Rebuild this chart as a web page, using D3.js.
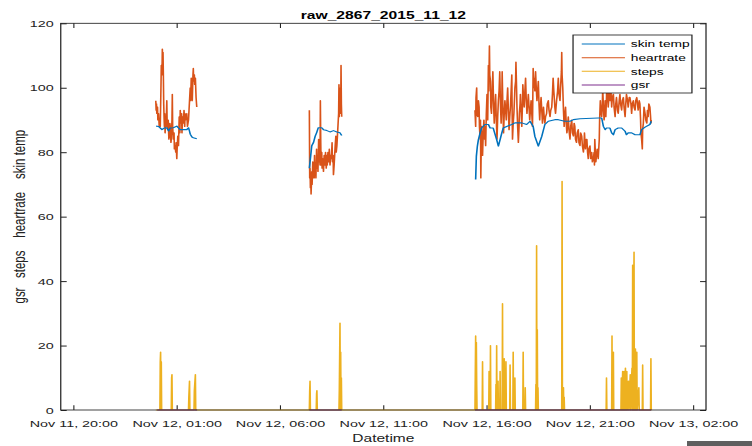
<!DOCTYPE html>
<html>
<head>
<meta charset="utf-8">
<script src="https://cdn.jsdelivr.net/npm/d3@7"></script>
<style>
  html, body { margin: 0; padding: 0; background: #fff; }
  svg { display: block; }
</style>
</head>
<body>
<div id="chart"></div>
<script>
// all readings are on Nov 12 2015, times as HH:MM
const skinTemp1 = [["00:01",88.1],["00:08",88],["00:18",87],["00:24",87.5],["00:32",87.6],["00:37",86.6],["00:42",87.5],["00:51",87.6],["01:01",88.1],["01:06",87.5],["01:11",87],["01:30",87],["01:35",87.6],["01:38",86.5],["01:40",85.6],["01:45",84.7],["01:49",84.5],["01:59",84.2]];
const skinTemp2 = [["07:26",75],["07:30",79],["07:33",82],["07:38",83],["07:43",85],["07:47",86],["07:52",87.6],["08:02",87.6],["08:07",87],["08:17",86.7],["08:26",86.3],["08:36",86.7],["08:46",86.3],["08:55",86],["09:00",85.2]];
const skinTemp3 = [["15:29",71.5],["15:31",78.7],["15:34",81.9],["15:37",83.9],["15:42",86],["15:46",87.5],["15:56",88.6],["16:06",88.6],["16:11",87.5],["16:20",87.5],["16:30",83.9],["16:35",81.9],["16:40",83.9],["16:45",86],["16:49",87.5],["16:59",88],["17:14",88.6],["17:23",89.1],["17:43",89.1],["17:57",88.6],["18:07",89.6],["18:16",88],["18:21",84.9],["18:31",81.9],["18:41",84.9],["18:50",88.6],["19:00",89.6],["19:19",90.1],["19:29",90.1],["19:48",89.6],["20:03",89.6],["20:13",90.1],["20:32",90.4],["21:25",90.6],["21:35",90.6],["21:40",88],["21:45",87],["21:49",87.5],["21:59",87.5],["22:04",86],["22:09",85.4],["22:14",87],["22:23",87.5],["22:33",87.5],["22:43",86.5],["22:47",85.4],["22:52",86],["23:02",86],["23:12",85.4],["23:26",85.4],["23:31",87],["23:41",87.8],["23:55",88.6],["23:59",89.6]];

const heartrate1 = [["00:00",96],["00:01",93],["00:02",95],["00:03",92],["00:05",94],["00:06",90],["00:08",92],["00:10",88],["00:12",90],["00:13",88],["00:15",100],["00:16",107],["00:18",104],["00:19",112],["00:20",109],["00:21",111],["00:22",104],["00:23",95],["00:24",91],["00:25",88],["00:26",92],["00:27",86],["00:29",90],["00:30",88],["00:32",96],["00:33",89],["00:35",87],["00:36",90],["00:38",84],["00:39",85],["00:41",89],["00:42",88],["00:44",83],["00:45",84],["00:47",90],["00:48",98],["00:49",88],["00:51",84],["00:53",86],["00:54",81],["00:56",82],["00:58",80],["00:59",83],["01:01",78],["01:02",81],["01:04",85],["01:06",82],["01:08",91],["01:10",86],["01:11",93],["01:13",89],["01:15",92],["01:16",86],["01:18",91],["01:20",89],["01:22",93],["01:24",88],["01:25",92],["01:27",90],["01:30",92],["01:32",88],["01:35",90],["01:37",94],["01:40",100],["01:41",96],["01:43",103],["01:44",98],["01:46",96],["01:48",104],["01:49",106],["01:50",102],["01:52",104],["01:53",101],["01:55",103],["01:57",97],["01:59",94]];
const heartrate2 = [["07:26",93],["07:27",72],["07:28",75],["07:29",69],["07:30",72],["07:31",67],["07:32",70],["07:33",74],["07:34",70],["07:36",77],["07:37",72],["07:38",75],["07:40",72],["07:41",79],["07:42",73],["07:44",76],["07:45",72],["07:47",81],["07:48",75],["07:50",78],["07:51",74],["07:53",84],["07:54",77],["07:55",80],["07:57",76],["07:58",96],["07:59",84],["08:00",76],["08:02",80],["08:03",75],["08:05",78],["08:07",74],["08:09",79],["08:11",76],["08:13",80],["08:15",75],["08:17",79],["08:18",76],["08:20",80],["08:22",77],["08:24",81],["08:26",76],["08:28",79],["08:30",78],["08:32",83],["08:33",77],["08:35",79],["08:36",73],["08:38",76],["08:39",78],["08:41",82],["08:43",85],["08:44",80],["08:46",82],["08:48",86],["08:50",90],["08:51",92],["08:52",101],["08:53",91],["08:54",100],["08:55",95],["08:56",99],["08:57",92],["08:58",107],["08:59",95],["09:00",91]];
const heartrate3 = [["15:27",93],["15:29",88],["15:30",97],["15:32",100],["15:33",92],["15:35",91],["15:37",96],["15:39",94],["15:40",88],["15:42",84],["15:43",90],["15:44",72],["15:45",80],["15:46",88],["15:48",82],["15:49",79],["15:51",86],["15:53",90],["15:55",84],["15:56",88],["15:58",82],["16:00",92],["16:02",98],["16:04",90],["16:06",107],["16:07",99],["16:09",113],["16:10",104],["16:12",102],["16:13",94],["16:15",92],["16:17",99],["16:19",105],["16:21",95],["16:23",89],["16:25",94],["16:27",98],["16:29",90],["16:31",84],["16:33",91],["16:35",96],["16:37",99],["16:39",105],["16:41",95],["16:43",89],["16:45",97],["16:46",105],["16:48",94],["16:50",86],["16:52",92],["16:54",96],["16:56",93],["16:58",90],["17:00",96],["17:02",100],["17:04",93],["17:06",87],["17:08",91],["17:10",94],["17:12",99],["17:14",104],["17:15",92],["17:16",84],["17:18",89],["17:20",92],["17:22",97],["17:23",100],["17:25",102],["17:26",108],["17:28",99],["17:29",94],["17:31",88],["17:33",83],["17:35",88],["17:36",92],["17:38",95],["17:39",98],["17:41",93],["17:43",88],["17:45",95],["17:46",101],["17:48",97],["17:50",94],["17:52",99],["17:54",103],["17:56",96],["17:58",92],["18:00",95],["18:02",98],["18:04",94],["18:06",90],["18:08",93],["18:10",96],["18:12",92],["18:14",88],["18:15",97],["18:16",106],["18:18",100],["18:19",103],["18:21",99],["18:23",105],["18:25",100],["18:27",96],["18:29",99],["18:31",102],["18:33",95],["18:35",90],["18:37",94],["18:39",97],["18:41",93],["18:43",89],["18:45",92],["18:46",94],["18:48",91],["18:50",89],["18:52",91],["18:55",92],["18:57",95],["19:00",96],["19:02",93],["19:05",91],["19:07",93],["19:10",94],["19:12",98],["19:14",103],["19:16",99],["19:19",94],["19:21",92],["19:24",96],["19:27",99],["19:29",103],["19:31",98],["19:34",96],["19:36",101],["19:38",105],["19:39",111],["19:40",104],["19:42",100],["19:44",93],["19:46",88],["19:48",92],["19:50",94],["19:52",89],["19:54",86],["19:56",88],["19:58",91],["20:00",87],["20:03",84],["20:05",88],["20:08",90],["20:10",86],["20:13",85],["20:15",89],["20:17",88],["20:19",84],["20:22",83],["20:24",86],["20:27",87],["20:29",83],["20:32",82],["20:34",86],["20:37",85],["20:39",82],["20:42",80],["20:44",83],["20:45",86],["20:47",82],["20:48",81],["20:50",84],["20:52",84],["20:54",80],["20:56",78],["20:58",81],["21:01",82],["21:03",78],["21:06",80],["21:08",77],["21:11",78],["21:13",80],["21:14",76],["21:15",84],["21:17",79],["21:18",77],["21:20",79],["21:22",81],["21:24",79],["21:25",78],["21:27",82],["21:28",84],["21:29",90],["21:31",96],["21:33",93],["21:35",91],["21:37",95],["21:38",100],["21:40",94],["21:42",90],["21:44",93],["21:45",96],["21:47",91],["21:49",97],["21:50",102],["21:52",98],["21:54",94],["21:56",97],["21:57",100],["22:00",96],["22:02",99],["22:04",94],["22:06",97],["22:09",98],["22:11",94],["22:14",91],["22:16",95],["22:18",97],["22:21",93],["22:23",92],["22:26",96],["22:28",98],["22:30",95],["22:33",93],["22:35",96],["22:38",97],["22:40",94],["22:43",91],["22:45",95],["22:47",98],["22:50",96],["22:52",94],["22:55",97],["22:57",97],["23:00",95],["23:02",92],["23:04",95],["23:07",96],["23:09",94],["23:12",93],["23:14",96],["23:17",97],["23:19",95],["23:21",93],["23:24",96],["23:26",95],["23:28",90],["23:29",86],["23:31",84],["23:33",81],["23:34",87],["23:36",89],["23:38",94],["23:41",92],["23:43",90],["23:46",89],["23:48",93],["23:50",91],["23:52",95],["23:55",94],["23:57",91],["23:58",89],["23:59",90]];

const steps = [["00:00",0],["00:12",0],["00:13",15],["00:14",18],["00:15",0],["00:16",15],["00:17",0],
  ["00:45",0],["00:46",10],["00:47",11],["00:48",0],
  ["01:35",0],["01:36",4],["01:38",9],["01:39",0],
  ["01:51",0],["01:52",6],["01:55",11],["01:56",0],
  ["07:26",0],["07:27",6],["07:28",9],["07:29",0],
  ["07:46",0],["07:47",5],["07:48",6],["07:49",0],
  ["08:52",0],["08:53",6],["08:55",27],["08:56",0],["08:57",18],["08:58",0],["08:59",10],["09:00",0],
  ["15:27",0],["15:28",12],["15:29",23],["15:30",0],["15:31",21],["15:32",8],["15:33",0],
  ["15:48",0],["15:49",15],["15:50",0],
  ["16:07",0],["16:08",12],["16:09",0],["16:11",0],["16:12",20],["16:13",0],
  ["16:27",0],["16:28",8],["16:29",0],["16:30",20],["16:31",0],
  ["16:33",0],["16:34",9],["16:35",0],["16:39",0],["16:40",12],["16:41",0],
  ["16:46",0],["16:47",33],["16:48",0],["16:51",0],["16:52",16],["16:53",0],
  ["16:56",0],["16:57",15],["16:58",0],
  ["17:08",0],["17:09",14],["17:10",0],
  ["17:17",0],["17:18",18],["17:19",0],["17:22",0],["17:23",10],["17:24",0],
  ["17:46",0],["17:47",18],["17:48",0],["17:52",0],["17:53",7],["17:54",0],
  ["18:23",0],["18:24",8],["18:25",0],["18:26",51],["18:27",0],["18:28",25],["18:29",0],["18:30",7],["18:31",0],
  ["19:39",0],["19:40",71],["19:41",0],["19:44",7],["19:45",0],["19:46",4],["19:47",0],
  ["21:48",0],["21:49",10],["21:50",0],
  ["22:04",0],["22:05",23],["22:06",0],["22:09",18],["22:10",0],
  ["22:31",0],["22:32",10],["22:33",0],["22:36",12],["22:37",0],["22:40",12],["22:41",0],["22:44",13],["22:45",0],
  ["22:48",12],["22:49",0],["22:53",9],["22:54",0],["22:58",11],["22:59",0],["23:03",13],["23:04",0],
  ["23:05",45],["23:06",0],["23:09",49],["23:10",0],["23:13",19],["23:14",0],["23:17",18],["23:18",0],["23:23",7],["23:24",0],
  ["23:33",0],["23:34",14],["23:35",0],
  ["23:57",0],["23:58",16],["23:59",0]];

const gsr1 = [["00:04",0],["02:00",0]];
const gsr2 = [["07:26",0],["09:00",0]];
const gsr3 = [["15:27",0],["23:59",0]];

const xTickDates = ["2015-11-11 20:00","2015-11-12 01:00","2015-11-12 06:00","2015-11-12 11:00","2015-11-12 16:00","2015-11-12 21:00","2015-11-13 02:00"];
const yTickValues = [0, 20, 40, 60, 80, 100, 120];
const seriesNames = ["skin temp", "heartrate", "steps", "gsr"];
const seriesColors = ["#0072bd", "#d95319", "#edb120", "#7e2f8e"];

// the reference picture is stretched sideways, so draw narrow and let the viewBox stretch it
const SX = 1.45;
const W = 752 / SX, H = 446;
const plotL = 41.9, plotR = 486.9, plotT = 23.3, plotB = 410;
const font = "'Liberation Sans', Arial, sans-serif";
const ink = "#222";

const svg = d3.select("#chart").append("svg")
  .attr("width", 752)
  .attr("height", 446)
  .attr("viewBox", `0 0 ${W} ${H}`)
  .attr("preserveAspectRatio", "none");

svg.append("rect").attr("width", W).attr("height", H).attr("fill", "#fff");

const parse = d3.timeParse("%Y-%m-%d %H:%M");
const t = s => parse("2015-11-12 " + s);

const x = d3.scaleTime()
  .domain([parse("2015-11-11 19:24"), parse("2015-11-13 02:38")])
  .range([plotL, plotR]);
const y = d3.scaleLinear().domain([0, 120]).range([plotB, plotT]);

const xTicks = xTickDates.map(parse);
const fmt = d3.timeFormat("%b %d, %H:%M");

// axes, ticks pointing inward
const gx = svg.append("g")
  .attr("transform", `translate(0,${plotB})`)
  .call(d3.axisBottom(x).tickValues(xTicks).tickFormat(fmt).tickSizeInner(-4.7).tickSizeOuter(0).tickPadding(9.8));
const gy = svg.append("g")
  .attr("transform", `translate(${plotL},0)`)
  .call(d3.axisLeft(y).tickValues(yTickValues).tickSizeInner(-4.1).tickSizeOuter(0).tickPadding(4.8));
const gxTop = svg.append("g")
  .attr("transform", `translate(0,${plotT})`)
  .call(d3.axisTop(x).tickValues(xTicks).tickFormat("").tickSizeInner(-4.7).tickSizeOuter(0));
const gyRight = svg.append("g")
  .attr("transform", `translate(${plotR},0)`)
  .call(d3.axisRight(y).tickValues(yTickValues).tickFormat("").tickSizeInner(-4.1).tickSizeOuter(0));

[gx, gy, gxTop, gyRight].forEach(g => {
  g.select(".domain").remove();
  g.selectAll("line").attr("stroke", ink);
  g.selectAll("text").attr("fill", ink).style("font-family", font).style("font-size", "9.9px");
});
gx.selectAll("line").attr("stroke-width", 0.75);
gxTop.selectAll("line").attr("stroke-width", 0.75);

// data lines
const line = d3.line().x(d => x(t(d[0]))).y(d => y(d[1]));
const plot = svg.append("g");

function draw(data, color) {
  plot.append("path")
    .datum(data)
    .attr("d", line)
    .attr("fill", "none")
    .attr("stroke", color)
    .attr("stroke-width", 1.1)
    .attr("stroke-linejoin", "round");
}

[heartrate1, heartrate2, heartrate3].forEach(d => draw(d, seriesColors[1]));
[skinTemp1, skinTemp2, skinTemp3].forEach(d => draw(d, seriesColors[0]));
draw(steps, seriesColors[2]);
[gsr1, gsr2, gsr3].forEach(d => draw(d, seriesColors[3]));

// box
svg.append("rect")
  .attr("x", plotL).attr("y", plotT)
  .attr("width", plotR - plotL).attr("height", plotB - plotT)
  .attr("fill", "none").attr("stroke", ink).attr("stroke-width", 0.85);

// title and labels
svg.append("text")
  .attr("x", (plotL + plotR) / 2).attr("y", 19.3)
  .attr("text-anchor", "middle")
  .attr("fill", "#000")
  .style("font-family", font).style("font-size", "10.8px").style("font-weight", "bold")
  .text("raw_2867_2015_11_12");

svg.append("text")
  .attr("x", (plotL + plotR) / 2).attr("y", 442)
  .attr("text-anchor", "middle")
  .attr("fill", ink)
  .style("font-family", font).style("font-size", "10.7px")
  .text("Datetime");

svg.append("text")
  .attr("transform", `translate(17.2,${(plotT + plotB) / 2}) rotate(-90)`)
  .attr("text-anchor", "middle")
  .attr("xml:space", "preserve")
  .style("white-space", "pre")
  .attr("fill", ink)
  .style("font-family", font).style("font-size", "11.5px")
  .text("gsr   steps    heartrate    skin temp");

// legend
const lg = svg.append("g");
lg.append("rect")
  .attr("x", 395.2).attr("y", 35).attr("width", 82).attr("height", 58)
  .attr("fill", "#fff").attr("stroke", ink).attr("stroke-width", 0.85);
const rowY = [44, 57.7, 71.2, 85];
seriesNames.forEach((name, i) => {
  lg.append("line")
    .attr("x1", 401.2).attr("x2", 431)
    .attr("y1", rowY[i]).attr("y2", rowY[i])
    .attr("stroke", seriesColors[i]).attr("stroke-width", 1);
  lg.append("text")
    .attr("x", 435).attr("y", rowY[i]).attr("dy", "0.35em")
    .attr("fill", "#000")
    .style("font-family", font).style("font-size", "9.5px")
    .text(name);
});

// grey strip cut into the bottom-right corner of the screenshot
svg.append("rect")
  .attr("x", 687 / SX).attr("y", 441).attr("width", (752 - 687) / SX).attr("height", 5)
  .attr("fill", "#5f5f5f");
</script>
</body>
</html>
